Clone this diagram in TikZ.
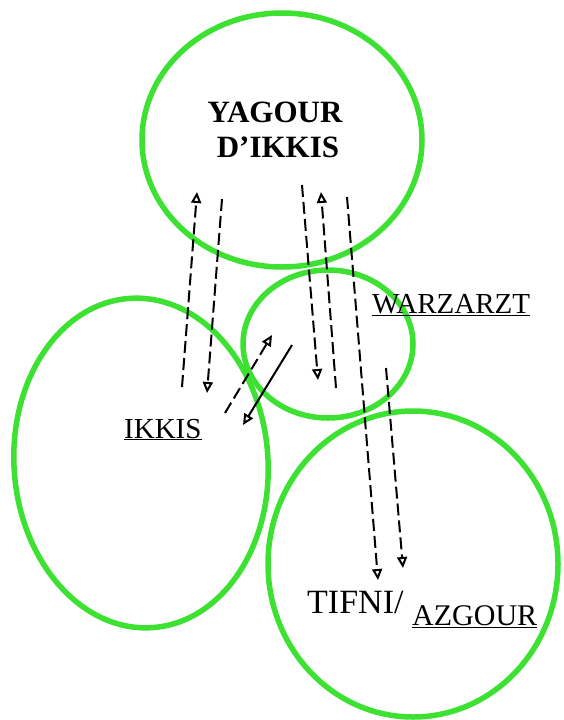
\documentclass[tikz,border=0pt]{standalone}
\usepackage{fontspec}
\setmainfont{Liberation Serif}
\usetikzlibrary{arrows.meta}
\definecolor{zonegreen}{RGB}{60,225,50}

\begin{document}
\begin{tikzpicture}[
  x=1pt, y=-1pt,
  zone/.style={draw=zonegreen, line width=5.5pt},
  flow/.style={-{Triangle[open, length=11pt, width=10pt]}, line width=2pt, dash pattern=on 12pt off 5pt},
  solidflow/.style={flow, solid},
  lab/.style={inner sep=0pt, anchor=base west},
  bigbold/.style={lab, anchor=base, font=\fontsize{31}{35}\selectfont\bfseries},
  >=Stealth
]
\useasboundingbox (0,0) rectangle (563,720);

% the four areas
\draw[zone] (282,140) ellipse [x radius=140pt, y radius=127pt];
\draw[zone, rotate around={4:(141,463)}] (141,463) ellipse [x radius=127pt, y radius=165pt];
\draw[zone] (413,564) ellipse [x radius=145pt, y radius=153pt];
\draw[zone] (328,344) ellipse [x radius=85pt, y radius=74pt];

% labels
\node[bigbold] (yagour) at (275,122) {YAGOUR};
\node[bigbold] (dikkis) at (278,157) {D’IKKIS};
\node[lab, font=\fontsize{29}{33}\selectfont] (warzarzt) at (372,313) {\underline{WARZARZT}};
\node[lab, font=\fontsize{29}{33}\selectfont] (ikkis) at (124,438) {\underline{IKKIS}};
\node[lab, font=\fontsize{34}{38}\selectfont] (tifni) at (307,613) {TIFNI/};
\node[lab, font=\fontsize{30}{34}\selectfont] (azgour) at (412,625) {\underline{AZGOUR}};

% flow ends
\coordinate (up1a) at (182,387);   \coordinate (up1b) at (197,192);
\coordinate (dn1a) at (222,199);   \coordinate (dn1b) at (207,393);
\coordinate (dn2a) at (302,185);   \coordinate (dn2b) at (318,380);
\coordinate (up2a) at (336,388);   \coordinate (up2b) at (321,192);
\coordinate (dn3a) at (347,197);   \coordinate (dn3b) at (378,580);
\coordinate (dn4a) at (386,368);   \coordinate (dn4b) at (403,568);
\coordinate (dg1a) at (225,413);   \coordinate (dg1b) at (272,335);
\coordinate (dg2a) at (292,345);   \coordinate (dg2b) at (243,425);

\draw[flow] (up1a) -- (up1b);
\draw[flow] (dn1a) -- (dn1b);
\draw[flow] (dn2a) -- (dn2b);
\draw[flow] (up2a) -- (up2b);
\draw[flow] (dn3a) -- (dn3b);
\draw[flow] (dn4a) -- (dn4b);
\draw[flow] (dg1a) -- (dg1b);
\draw[solidflow] (dg2a) -- (dg2b);

\end{tikzpicture}
\end{document}
